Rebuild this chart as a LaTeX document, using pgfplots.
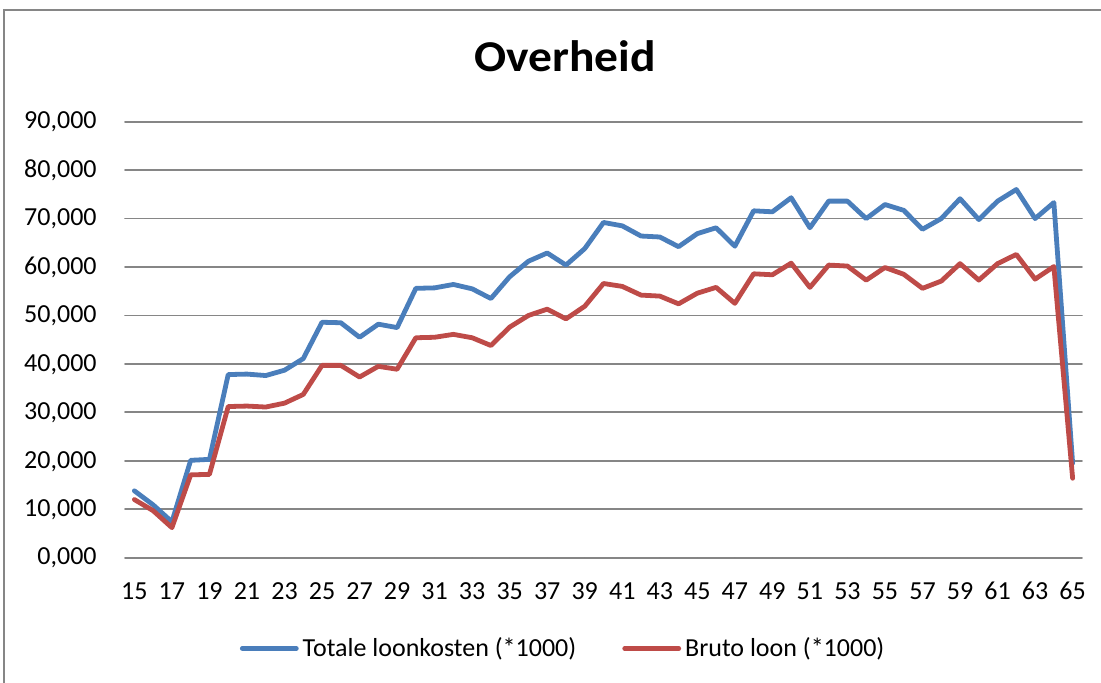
\documentclass[border=0pt]{standalone}
\usepackage{pgfplots}
\pgfplotsset{compat=1.18}
\usepackage{fontspec}
\setmainfont{Carlito}
\newfontfamily\titlefont[FakeStretch=1.08]{Carlito}
\definecolor{sblue}{HTML}{4A7EBB}
\definecolor{sred}{HTML}{BE4B48}
\definecolor{gridgray}{HTML}{868686}
\begin{document}
\begin{tikzpicture}
\useasboundingbox (0,0) rectangle (550.5pt,341.5pt);
\begin{axis}[
  at={(62.5pt,62.65pt)}, anchor=south west,
  scale only axis, width=478.5pt, height=218pt,
  xmin=14.5, xmax=65.5, ymin=0, ymax=90,
  axis line style={draw=none},
  major tick length=0pt,
  xtick={15,17,...,65},
  ytick={0,10,...,90},
  ymajorgrids, major grid style={gridgray, line width=0.9pt},
  /pgf/number format/assume math mode=true,
  yticklabel style={/pgf/number format/fixed, /pgf/number format/fixed zerofill, /pgf/number format/precision=3, /pgf/number format/use comma, /pgf/number format/1000 sep={}},
  xticklabel style={/pgf/number format/1000 sep={}},
  every tick label/.append style={font=\fontsize{13}{15}\selectfont, inner sep=0pt},
  yticklabel style={anchor=base east, xshift=-14pt, yshift=-3.65pt},
  xticklabel style={anchor=base, yshift=-21.15pt},
  title={Overheid},
  every axis title/.style={at={(0.4598,1.1147)}, anchor=base, inner sep=0pt, font=\fontsize{22}{26}\selectfont\titlefont\bfseries},
  legend columns=2,
  legend style={draw=none, fill=none, at={(0.4589,-0.2081)}, anchor=center,
    font=\fontsize{13}{15}\selectfont,
    /tikz/every even column/.append style={column sep=21pt}},
  legend image code/.code={\draw[#1, line cap=round] (0pt,0pt) -- (27pt,0pt);},
  line join=round, line cap=round,
]
\addplot[sblue, line width=2.4pt] coordinates {
(15,13.8) (16,10.9) (17,7.4) (18,20.1) (19,20.3) (20,37.8) (21,37.9) (22,37.6) (23,38.7) (24,41.1)
(25,48.6) (26,48.5) (27,45.5) (28,48.2) (29,47.5) (30,55.6) (31,55.7) (32,56.4) (33,55.5) (34,53.5)
(35,58.0) (36,61.2) (37,62.9) (38,60.4) (39,63.8) (40,69.2) (41,68.5) (42,66.4) (43,66.2) (44,64.2)
(45,66.9) (46,68.1) (47,64.3) (48,71.6) (49,71.4) (50,74.3) (51,68.1) (52,73.6) (53,73.6) (54,70.0)
(55,72.9) (56,71.7) (57,67.8) (58,70.0) (59,74.1) (60,69.8) (61,73.6) (62,76.0) (63,70.0) (64,73.3)
(65,19.5)
};
\addlegendentry{Totale loonkosten (*1000)}
\addplot[sred, line width=2.4pt] coordinates {
(15,12.0) (16,9.7) (17,6.2) (18,17.1) (19,17.2) (20,31.2) (21,31.3) (22,31.1) (23,31.9) (24,33.7)
(25,39.7) (26,39.7) (27,37.3) (28,39.5) (29,38.9) (30,45.4) (31,45.5) (32,46.1) (33,45.4) (34,43.8)
(35,47.6) (36,50.0) (37,51.3) (38,49.3) (39,51.9) (40,56.6) (41,56.0) (42,54.2) (43,54.0) (44,52.4)
(45,54.6) (46,55.8) (47,52.5) (48,58.6) (49,58.4) (50,60.8) (51,55.8) (52,60.4) (53,60.2) (54,57.3)
(55,59.9) (56,58.5) (57,55.6) (58,57.1) (59,60.7) (60,57.3) (61,60.7) (62,62.6) (63,57.5) (64,60.1)
(65,16.4)
};
\addlegendentry{Bruto loon (*1000)}
\end{axis}
\draw[gridgray, line width=1pt] (2pt,-20pt) rectangle (570pt,336.5pt);
\end{tikzpicture}
\end{document}
